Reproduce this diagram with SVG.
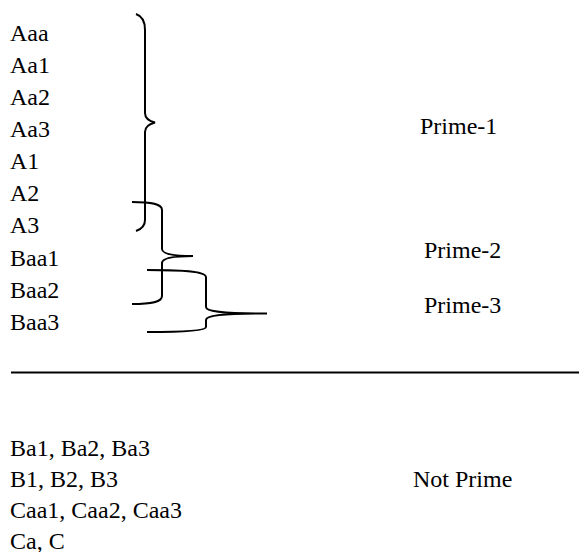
<svg xmlns="http://www.w3.org/2000/svg" width="579" height="552" viewBox="0 0 579 552">
<style>
.t{font-family:'Liberation Serif','Times New Roman','DejaVu Serif',serif;font-size:24px;fill:#000}
.br{fill:none;stroke:#000;stroke-width:2;stroke-linejoin:miter}
</style>
<rect width="579" height="552" fill="#fff"/>
<g id="items-a" class="t" font-family="Liberation Serif, serif">
<text x="10" y="41">Aaa</text>
<text x="10" y="73">Aa1</text>
<text x="10" y="105">Aa2</text>
<text x="10" y="137">Aa3</text>
<text x="10" y="169">A1</text>
<text x="10" y="201">A2</text>
<text x="10" y="233">A3</text>
<text x="10" y="266">Baa1</text>
<text x="10" y="298">Baa2</text>
<text x="10" y="330">Baa3</text>
</g>
<g id="labels" class="t" font-family="Liberation Serif, serif">
<text x="420" y="134">Prime-1</text>
<text x="424" y="258">Prime-2</text>
<text x="424" y="313">Prime-3</text>
<text x="413" y="487">Not Prime</text>
</g>
<g id="connectors">
<path id="brace1" class="br" d="M136,14 C142,16 145,21 145,30 L145,113 C145,118 149,121 155,122.5 C149,124 145,127 145,132 L145,220 C145,226 142,229 136,231"/>
<path id="brace2" class="br" d="M132,202 C152,202 162,204 162,210 L162,249 C162,253 170,256 193,256 C170,256 162,259 162,263 L162,296 C162,302 152,304 132,304"/>
<path id="brace3" class="br" d="M147,270 C190,270 206,272 206,277 L206,307 C206,311 218,313.5 267,313.5 C218,313.5 206,316 206,320 L206,327 C206,330 190,332 147,332"/>
<line id="divider" x1="11" y1="372.5" x2="579" y2="372.5" stroke="#000" stroke-width="2"/>
</g>
<g id="items-b" class="t" font-family="Liberation Serif, serif">
<text x="10" y="456">Ba1, Ba2, Ba3</text>
<text x="10" y="487">B1, B2, B3</text>
<text x="10" y="518">Caa1, Caa2, Caa3</text>
<text x="10" y="549">Ca, C</text>
</g>
</svg>
